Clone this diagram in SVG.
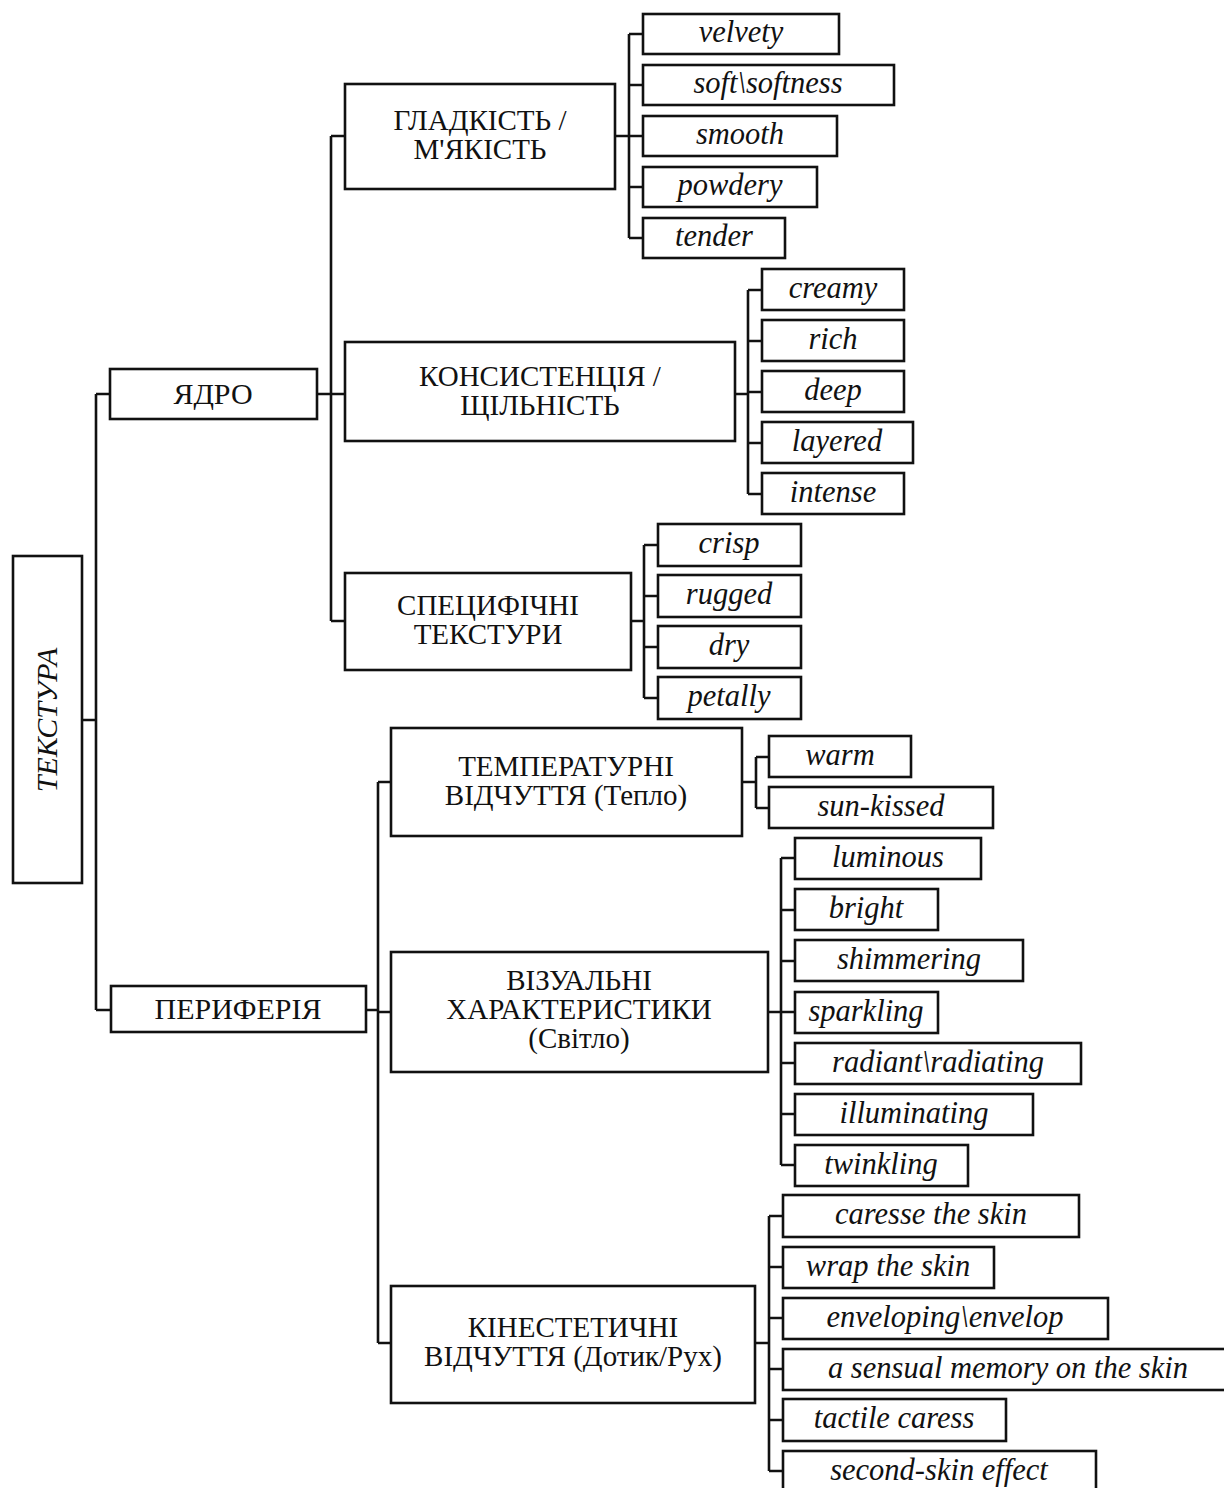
<svg xmlns="http://www.w3.org/2000/svg" width="1224" height="1488" viewBox="0 0 1224 1488">
<style>
rect{fill:#fff;stroke:#111;stroke-width:2.6}
.c path{fill:none;stroke:#111;stroke-width:2.6}
.n{font-family:"Liberation Serif","Times New Roman",serif;font-size:29px;fill:#111;text-anchor:middle}
.l{font-family:"Liberation Serif","Times New Roman",serif;font-size:30.5px;font-style:italic;fill:#111;text-anchor:middle}
</style>
<rect x="0" y="0" width="1224" height="1488" style="stroke:none"/>
<g class="c" id="connectors">
<path d="M82,720H96M96,394V1010M96,394H110M96,1010H111"/>
<path d="M317,394H331M331,136V621M331,136H345M331,394H345M331,621H345"/>
<path d="M615,136H629M629,34V238M629,34H643M629,85H643M629,136H643M629,187H643M629,238H643"/>
<path d="M735,394H748M748,290V494M748,290H762M748,341H762M748,392H762M748,443H762M748,494H762"/>
<path d="M631,621H644M644,545V698M644,545H658M644,596H658M644,647H658M644,698H658"/>
<path d="M366,1010H378M378,782V1343M378,782H391M378,1012H391M378,1343H391"/>
<path d="M742,782H756M756,757V808M756,757H769M756,808H769"/>
<path d="M768,1012H781M781,858V1165M781,858H795M781,910H795M781,961H795M781,1012H795M781,1063H795M781,1114H795M781,1165H795"/>
<path d="M755,1343H769M769,1216V1471M769,1216H783M769,1267H783M769,1318H783M769,1369H783M769,1420H783M769,1471H783"/>
</g>
<g id="n-tekstura"><rect x="13" y="556" width="69" height="327"/><text class="n" style="font-style:italic;font-size:30px" transform="translate(57,720) rotate(-90)" x="0" y="0">ТЕКСТУРА</text></g>
<g id="n-yadro"><rect x="110" y="369" width="207" height="50"/><text class="n" style="font-size:30px" x="213" y="404">ЯДРО</text></g>
<g id="n-peryferiya"><rect x="111" y="986" width="255" height="46"/><text class="n" style="font-size:30px" x="238" y="1019">ПЕРИФЕРІЯ</text></g>
<g id="n-gladkist"><rect x="345" y="84" width="270" height="105"/><text class="n" x="480" y="130">ГЛАДКІСТЬ /</text><text class="n" x="480" y="159">М'ЯКІСТЬ</text></g>
<g id="n-konsystentsiya"><rect x="345" y="342" width="390" height="99"/><text class="n" x="540" y="386">КОНСИСТЕНЦІЯ /</text><text class="n" x="540" y="415">ЩІЛЬНІСТЬ</text></g>
<g id="n-spetsyfichni"><rect x="345" y="573" width="286" height="97"/><text class="n" x="488" y="615">СПЕЦИФІЧНІ</text><text class="n" x="488" y="644">ТЕКСТУРИ</text></g>
<g id="n-temperaturni"><rect x="391" y="728" width="351" height="108"/><text class="n" x="566" y="776">ТЕМПЕРАТУРНІ</text><text class="n" x="566" y="805">ВІДЧУТТЯ (Тепло)</text></g>
<g id="n-vizualni"><rect x="391" y="952" width="377" height="120"/><text class="n" x="579" y="990">ВІЗУАЛЬНІ</text><text class="n" x="579" y="1019">ХАРАКТЕРИСТИКИ</text><text class="n" x="579" y="1048">(Світло)</text></g>
<g id="n-kinestetychni"><rect x="391" y="1286" width="364" height="117"/><text class="n" x="573" y="1337">КІНЕСТЕТИЧНІ</text><text class="n" x="573" y="1366">ВІДЧУТТЯ (Дотик/Рух)</text></g>
<g id="l-velvety"><rect x="643" y="14" width="196" height="40"/><text class="l" x="741" y="42">velvety</text></g>
<g id="l-soft"><rect x="643" y="65" width="251" height="40"/><text class="l" x="768" y="93">soft\softness</text></g>
<g id="l-smooth"><rect x="643" y="116" width="194" height="40"/><text class="l" x="740" y="144">smooth</text></g>
<g id="l-powdery"><rect x="643" y="167" width="174" height="40"/><text class="l" x="730" y="195">powdery</text></g>
<g id="l-tender"><rect x="643" y="218" width="142" height="40"/><text class="l" x="714" y="246">tender</text></g>
<g id="l-creamy"><rect x="762" y="269" width="142" height="41"/><text class="l" x="833" y="298">creamy</text></g>
<g id="l-rich"><rect x="762" y="320" width="142" height="41"/><text class="l" x="833" y="349">rich</text></g>
<g id="l-deep"><rect x="762" y="371" width="142" height="41"/><text class="l" x="833" y="400">deep</text></g>
<g id="l-layered"><rect x="762" y="422" width="151" height="41"/><text class="l" x="837" y="451">layered</text></g>
<g id="l-intense"><rect x="762" y="473" width="142" height="41"/><text class="l" x="833" y="502">intense</text></g>
<g id="l-crisp"><rect x="658" y="524" width="143" height="42"/><text class="l" x="729" y="553">crisp</text></g>
<g id="l-rugged"><rect x="658" y="575" width="143" height="42"/><text class="l" x="729" y="604">rugged</text></g>
<g id="l-dry"><rect x="658" y="626" width="143" height="42"/><text class="l" x="729" y="655">dry</text></g>
<g id="l-petally"><rect x="658" y="677" width="143" height="42"/><text class="l" x="729" y="706">petally</text></g>
<g id="l-warm"><rect x="769" y="736" width="142" height="41"/><text class="l" x="840" y="765">warm</text></g>
<g id="l-sunkissed"><rect x="769" y="787" width="224" height="41"/><text class="l" x="881" y="816">sun-kissed</text></g>
<g id="l-luminous"><rect x="795" y="838" width="186" height="41"/><text class="l" x="888" y="867">luminous</text></g>
<g id="l-bright"><rect x="795" y="889" width="143" height="41"/><text class="l" x="866" y="918">bright</text></g>
<g id="l-shimmering"><rect x="795" y="940" width="228" height="41"/><text class="l" x="909" y="969">shimmering</text></g>
<g id="l-sparkling"><rect x="795" y="992" width="143" height="41"/><text class="l" x="866" y="1021">sparkling</text></g>
<g id="l-radiant"><rect x="795" y="1043" width="286" height="41"/><text class="l" x="938" y="1072">radiant\radiating</text></g>
<g id="l-illuminating"><rect x="795" y="1094" width="238" height="41"/><text class="l" x="914" y="1123">illuminating</text></g>
<g id="l-twinkling"><rect x="795" y="1145" width="173" height="41"/><text class="l" x="881" y="1174">twinkling</text></g>
<g id="l-caresse"><rect x="783" y="1195" width="296" height="42"/><text class="l" x="931" y="1224">caresse the skin</text></g>
<g id="l-wrap"><rect x="783" y="1247" width="211" height="41"/><text class="l" x="888" y="1276">wrap the skin</text></g>
<g id="l-enveloping"><rect x="783" y="1298" width="325" height="41"/><text class="l" x="945" y="1327">enveloping\envelop</text></g>
<g id="l-sensual"><rect x="783" y="1349" width="460" height="41"/><text class="l" x="1008" y="1378">a sensual memory on the skin</text></g>
<g id="l-tactile"><rect x="783" y="1399" width="223" height="42"/><text class="l" x="894" y="1428">tactile caress</text></g>
<g id="l-secondskin"><rect x="783" y="1451" width="313" height="41"/><text class="l" x="939" y="1480">second-skin effect</text></g>
</svg>
